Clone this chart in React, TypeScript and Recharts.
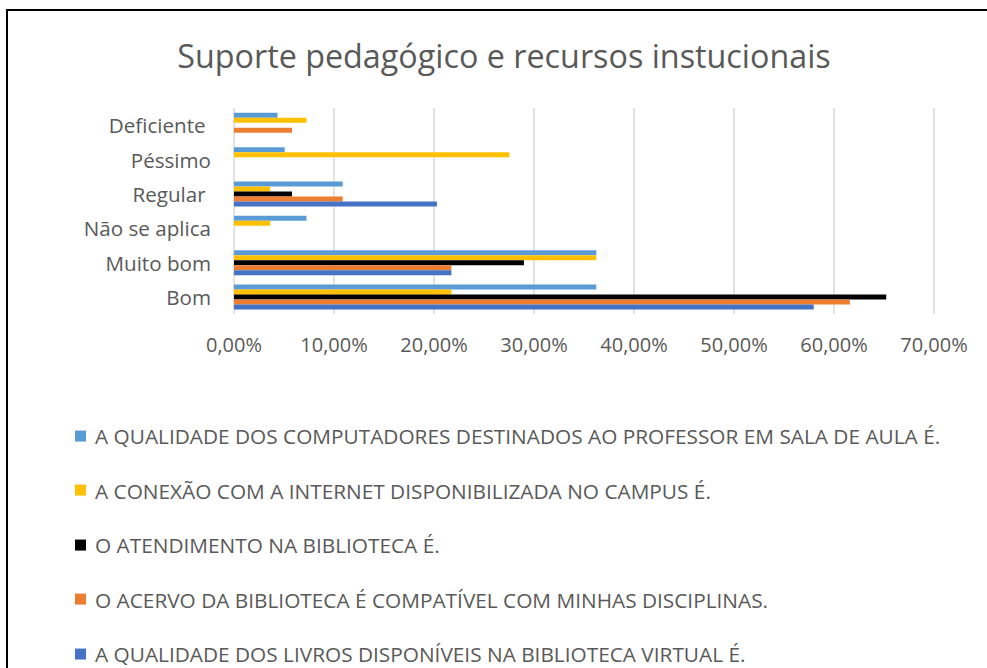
import React from 'react';
import { BarChart, Bar, XAxis, YAxis, CartesianGrid } from 'recharts';

const categories = ['Deficiente ', 'Péssimo', 'Regular ', 'Não se aplica', 'Muito bom', 'Bom'];

const computadores = [4.35, 5.07, 10.87, 7.25, 36.23, 36.23];
const internet = [7.25, 27.54, 3.62, 3.62, 36.23, 21.74];
const atendimento = [0, 0, 5.8, 0, 28.99, 65.22];
const acervo = [5.8, 0, 10.87, 0, 21.74, 61.59];
const livros = [0, 0, 20.29, 0, 21.74, 57.97];

const xTicks = [0, 10, 20, 30, 40, 50, 60, 70];

const SERIES = [
  { key: 'computadores', color: '#5B9BD5', label: 'A QUALIDADE DOS COMPUTADORES DESTINADOS AO PROFESSOR EM SALA DE AULA É.' },
  { key: 'internet', color: '#FFC000', label: 'A CONEXÃO COM A INTERNET DISPONIBILIZADA NO CAMPUS É.' },
  { key: 'atendimento', color: '#000000', label: 'O ATENDIMENTO NA BIBLIOTECA É.' },
  { key: 'acervo', color: '#ED7D31', label: 'O ACERVO DA BIBLIOTECA É COMPATÍVEL COM MINHAS DISCIPLINAS.' },
  { key: 'livros', color: '#4472C4', label: 'A QUALIDADE DOS LIVROS DISPONÍVEIS NA BIBLIOTECA VIRTUAL É.' },
];

const data = categories.map((name, i) => ({
  name,
  computadores: computadores[i],
  internet: internet[i],
  atendimento: atendimento[i],
  acervo: acervo[i],
  livros: livros[i],
}));

const FONT = '"Open Sans", sans-serif';
const TEXT = '#595959';

const formatPct = (v: number) => `${v.toFixed(2).replace('.', ',')}%`;

const CategoryTick = (props: any) => {
  const { y, payload } = props;
  return (
    <text
      x={211}
      y={y}
      textAnchor="end"
      dominantBaseline="central"
      fill={TEXT}
      fontSize={20.6}
      fontFamily={FONT}
      style={{ whiteSpace: 'pre' }}
    >
      {payload.value}
    </text>
  );
};

const App: React.FC = () => {
  return (
    <div style={{ position: 'absolute', left: 0, top: 0, width: 987, height: 668, overflow: 'hidden', background: '#fff', fontFamily: FONT }}>
      {/* chart frame */}
      <div style={{ position: 'absolute', left: 6, top: 9, width: 1000, height: 700, border: '2px solid #000' }} />

      <div style={{ position: 'absolute', left: 0, top: 33, width: 1008, textAlign: 'center', fontSize: 32.3, color: TEXT }}>
        Suporte pedagógico e recursos instucionais
      </div>

      <div style={{ position: 'absolute', left: 0, top: 0 }}>
        <BarChart
          width={987}
          height={668}
          data={data}
          layout="vertical"
          margin={{ top: 108, right: 53, bottom: 314, left: 0 }}
          barCategoryGap="14%"
          barGap={0}
        >
          <CartesianGrid horizontal={false} stroke="#d9d9d9" strokeWidth={1.5} />
          <XAxis
            type="number"
            domain={[0, 70]}
            ticks={xTicks}
            tickFormatter={formatPct}
            axisLine={false}
            tickLine={false}
            tickMargin={18}
            height={40}
            tick={{ fill: TEXT, fontSize: 20, fontFamily: FONT }}
          />
          <YAxis
            type="category"
            dataKey="name"
            width={234}
            axisLine={false}
            tickLine={false}
            tick={<CategoryTick />}
          />
          {SERIES.map((s) => (
            <Bar key={s.key} dataKey={s.key} fill={s.color} isAnimationActive={false} />
          ))}
        </BarChart>
      </div>

      {/* legend */}
      {SERIES.map((s, i) => (
        <div
          key={s.key}
          style={{ position: 'absolute', left: 75, top: 436 + i * 54.5, transform: 'translateY(-50%)', display: 'flex', alignItems: 'center', whiteSpace: 'nowrap', lineHeight: 1.1 }}
        >
          <span style={{ width: 11, height: 11, background: s.color, marginRight: 9 }} />
          <span style={{ fontSize: 20.8, color: TEXT }}>{s.label}</span>
        </div>
      ))}
    </div>
  );
};

export default App;
